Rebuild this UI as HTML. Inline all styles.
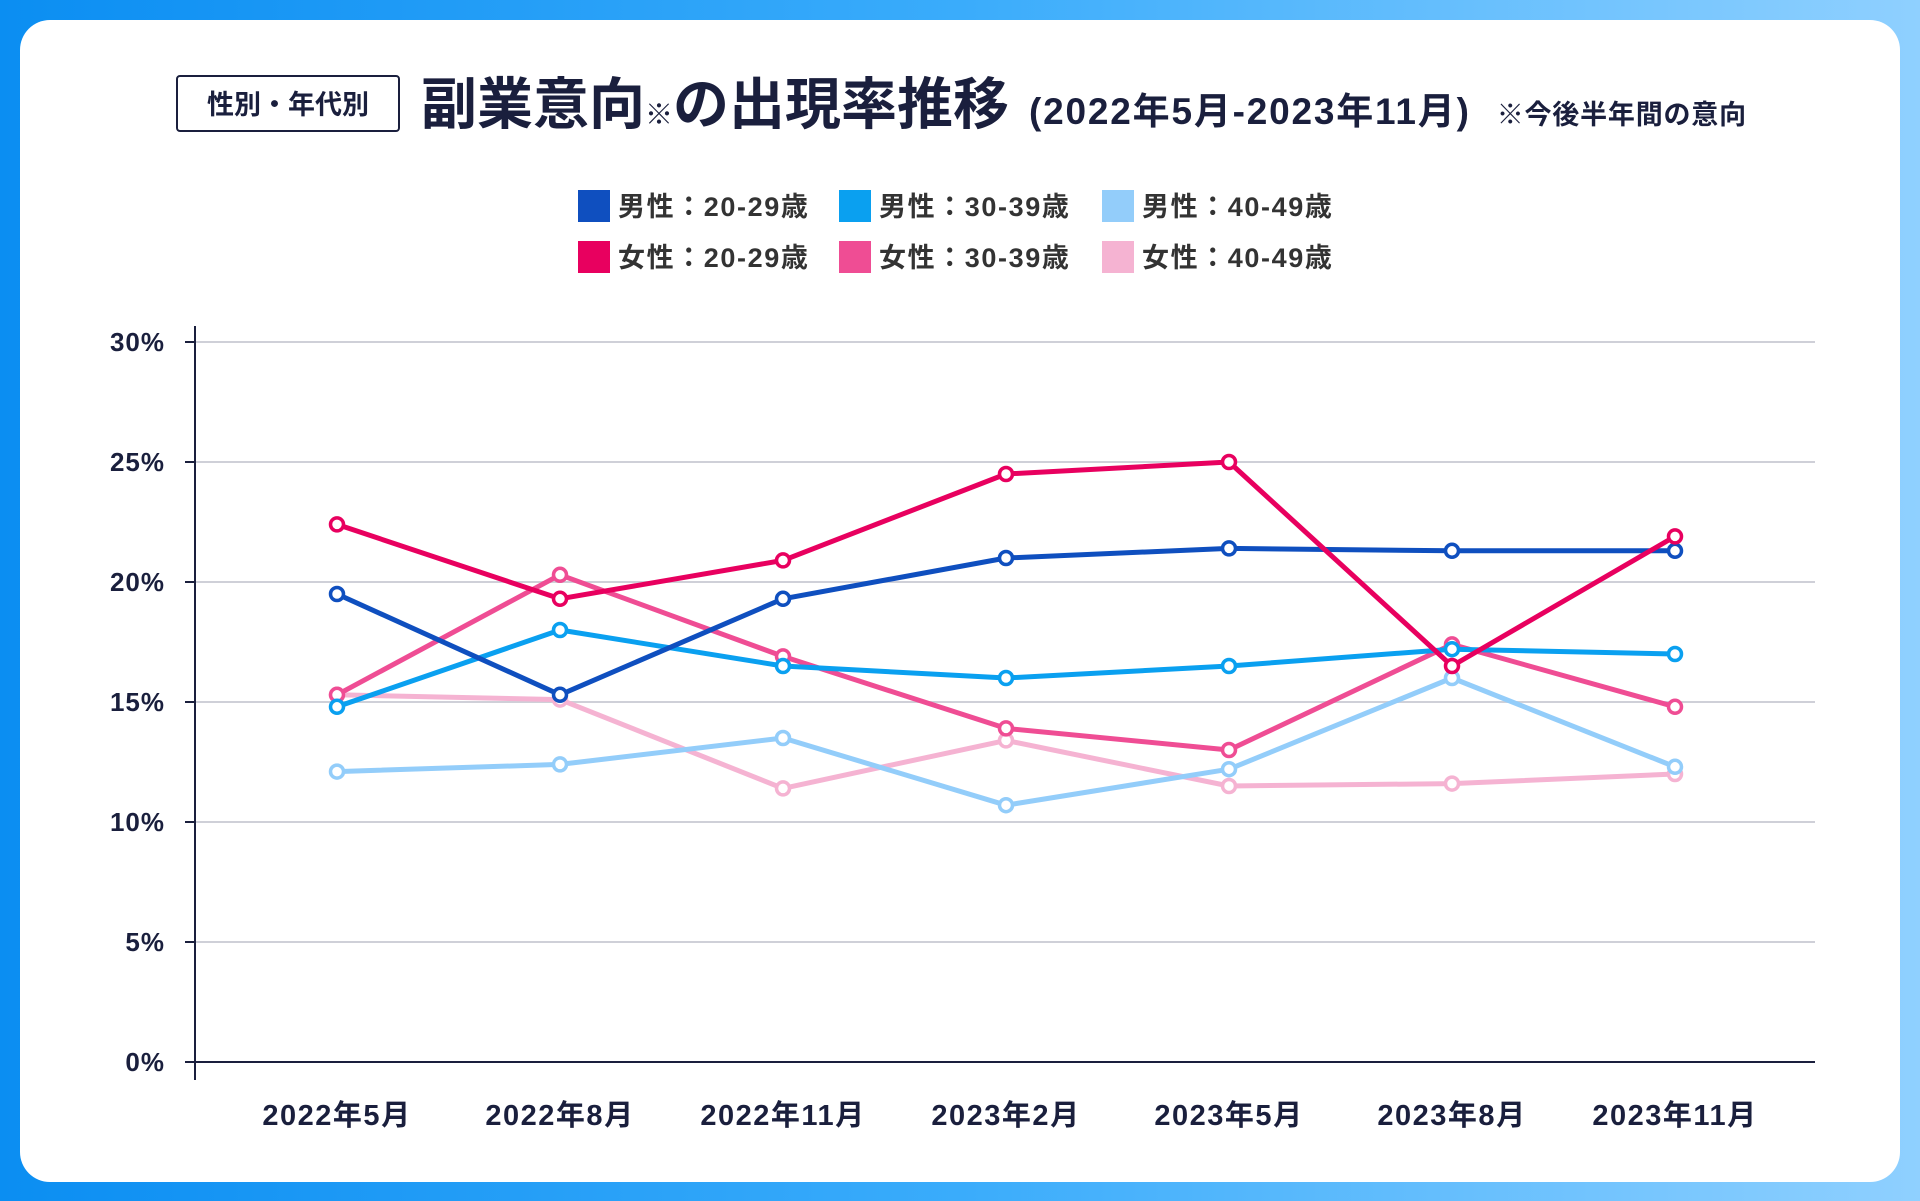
<!DOCTYPE html>
<html lang="ja"><head><meta charset="utf-8"><style>
html,body{margin:0;padding:0}
body{width:1920px;height:1201px;overflow:hidden;background:linear-gradient(90deg,#0b8ef2 0%,#3aacfb 50%,#8fd0ff 100%);font-family:"Liberation Sans","Noto Sans CJK JP",sans-serif}
#card{position:absolute;left:20px;top:20px;width:1880px;height:1162px;background:#fff;border-radius:30px}
</style></head><body>
<div id="card"></div>
<svg id="chart" width="1920" height="1201" style="position:absolute;left:0;top:0">
<rect x="177" y="76" width="222" height="55" rx="3" fill="#fff" stroke="#1a1f3d" stroke-width="2"/>
<text x="288" y="114" text-anchor="middle" font-size="27" font-weight="bold" fill="#1a1f3d">性別・年代別</text>
<text x="421" y="124" font-size="56" font-weight="bold" fill="#1a1f3d">副業意向<tspan font-size="28">※</tspan>の出現率推移<tspan font-size="37" dx="20" letter-spacing="1.8">(2022年5月-2023年11月)</tspan><tspan font-size="27" dx="26" letter-spacing="0.8">※今後半年間の意向</tspan></text>
<g id="legend"></g>
<g id="grid"></g><g id="lines"></g>
</svg>
<script>
const categories=["2022年5月","2022年8月","2022年11月","2023年2月","2023年5月","2023年8月","2023年11月"];
const yTicks=[0,5,10,15,20,25,30];
const seriesNames=["男性：20-29歳","男性：30-39歳","男性：40-49歳","女性：20-29歳","女性：30-39歳","女性：40-49歳"];
const seriesColors=["#0f4fbf","#0aa0f0","#93cdfa","#e8005f","#ef4d94","#f5b3d2"];
const male20=[19.5,15.3,19.3,21.0,21.4,21.3,21.3];
const male30=[14.8,18.0,16.5,16.0,16.5,17.2,17.0];
const male40=[12.1,12.4,13.5,10.7,12.2,16.0,12.3];
const female20=[22.4,19.3,20.9,24.5,25.0,16.5,21.9];
const female30=[15.3,20.3,16.9,13.9,13.0,17.4,14.8];
const female40=[15.3,15.1,11.4,13.4,11.5,11.6,12.0];
const series=[male20,male30,male40,female20,female30,female40];
const NS="http://www.w3.org/2000/svg";
const x0=195,x1=1815,yTop=342,yBot=1062;
const xs=i=>337+i*(1675-337)/(categories.length-1);
const ys=v=>yBot-(v/30)*(yBot-yTop);
function mk(t,a,p){const e=document.createElementNS(NS,t);for(const k in a)e.setAttribute(k,a[k]);p.appendChild(e);return e;}
const grid=document.getElementById('grid');
yTicks.forEach(v=>{
 const y=ys(v);
 if(v>0){const g=mk('line',{x1:x0,x2:x1,y1:y,y2:y,stroke:'#cfd0d8','stroke-width':2},grid);
 
 }
 const tk=mk('line',{x1:x0-10,x2:x0,y1:y,y2:y,stroke:'#1a1f3d','stroke-width':2},grid);
 
 
 const t=mk('text',{x:165,y:y+9,'text-anchor':'end','font-size':26,'font-weight':'bold',fill:'#1a1f3d','letter-spacing':1},grid);
 t.textContent=v+'%';
 
 
});
const ax=mk('line',{x1:x0,x2:x0,y1:326,y2:1080,stroke:'#1a1f3d','stroke-width':2},grid);


const bx=mk('line',{x1:x0,x2:x1,y1:yBot,y2:yBot,stroke:'#1a1f3d','stroke-width':2},grid);


categories.forEach((c,i)=>{
 const t=mk('text',{x:xs(i),y:1125,'text-anchor':'middle','font-size':29,'font-weight':'bold',fill:'#1a1f3d','letter-spacing':1.5},grid);
 t.textContent=c;
 
 
});
const lines=document.getElementById('lines');
[5,2,4,1,0,3].forEach(si=>{
 const d=series[si];
 const g=mk('g',{},lines);
 
 
 const p=mk('polyline',{points:d.map((v,i)=>xs(i)+','+ys(v)).join(' '),fill:'none',stroke:seriesColors[si],'stroke-width':5,'stroke-linejoin':'round'},g);
 
 
 d.forEach((v,i)=>{
  const c=mk('circle',{cx:xs(i),cy:ys(v),r:6.5,fill:'#fff',stroke:seriesColors[si],'stroke-width':3.5},g);
  
  
 });
});
const lg=document.getElementById('legend');
const lx=[578,839,1102],ly=[206,257];
seriesNames.forEach((n,i)=>{
 const x=lx[i%3],y=ly[Math.floor(i/3)];
 const r=mk('rect',{x:x,y:y-16,width:32,height:32,fill:seriesColors[i]},lg);
 
 
 const t=mk('text',{x:x+40,y:y+10,'font-size':27,'font-weight':'bold',fill:'#333','letter-spacing':1.6},lg);
 t.textContent=n;
 
 
});
</script>
</body></html>
